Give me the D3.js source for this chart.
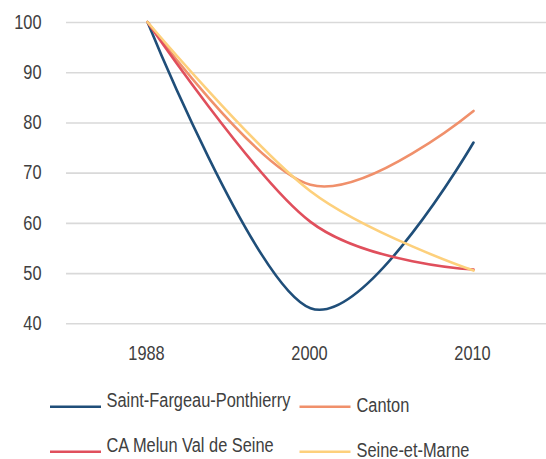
<!DOCTYPE html>
<html>
<head>
<meta charset="utf-8">
<script src="https://cdn.jsdelivr.net/npm/d3@7"></script>
<style>
  html, body { margin: 0; padding: 0; background: #fff; }
  svg { display: block; }
  text { font-family: "Liberation Sans", Arial, sans-serif; fill: #404040; }
</style>
</head>
<body>
<svg id="chart" width="546" height="459"></svg>
<script>
// Population index (1988 = 100)
const years = ["1988", "2000", "2010"];
const yTicks = [40, 50, 60, 70, 80, 90, 100];
const seriesNames = ["Saint-Fargeau-Ponthierry", "Canton", "CA Melun Val de Seine", "Seine-et-Marne"];
const saintFargeau = [100, 43, 76];
const canton = [100, 67.6, 82.3];
const caMelun = [100, 60.2, 50.7];
const seineEtMarne = [100, 66.3, 50.5];
const seriesColors = ["#1f4e79", "#f0906b", "#e04f5c", "#fdd07c"];

const series = [saintFargeau, canton, caMelun, seineEtMarne].map((values, i) => ({
  name: seriesNames[i], color: seriesColors[i], values
}));

const svg = d3.select("#chart");
const plot = { left: 66, right: 555, top: 22, bottom: 323.3 };
const narrowAxis = 0.84;   // condensed glyph width for axis labels
const narrowLegend = 0.78; // condensed glyph width for legend labels

const x = d3.scaleBand().domain(years).range([plot.left, plot.right]);
const y = d3.scaleLinear().domain([40, 100]).range([plot.bottom, plot.top]);
const cx = yr => x(yr) + x.bandwidth() / 2;

// horizontal gridlines
const yAxis = d3.axisLeft(y).tickValues(yTicks).tickSize(-(plot.right - plot.left)).tickFormat("");
const gy = svg.append("g").attr("transform", `translate(${plot.left},0)`).call(yAxis);
gy.select(".domain").remove();
gy.selectAll(".tick line").attr("stroke", "#d9d9d9").attr("stroke-width", 1.6);

// y labels, right-aligned
svg.append("g").selectAll("text")
  .data(yTicks)
  .join("text")
  .attr("transform", d => `translate(41.5,${y(d)}) scale(${narrowAxis},1)`)
  .attr("text-anchor", "end")
  .attr("dy", "0.35em")
  .attr("font-size", 19.5)
  .text(d => d);

// x labels
svg.append("g").selectAll("text")
  .data(years)
  .join("text")
  .attr("transform", d => `translate(${cx(d) - 1},360) scale(${narrowAxis},1)`)
  .attr("text-anchor", "middle")
  .attr("font-size", 19.5)
  .text(d => d);

// smoothed lines
const line = d3.line()
  .x((d, i) => cx(years[i]))
  .y(d => y(d))
  .curve(d3.curveCardinal.tension(0));

svg.append("g").selectAll("path")
  .data(series)
  .join("path")
  .attr("d", d => line(d.values))
  .attr("fill", "none")
  .attr("stroke", d => d.color)
  .attr("stroke-width", 2.6)
  .attr("stroke-linecap", "round");

// legend
const legendItems = [
  { s: series[0], lx: 50, ly: 406.7, tx: 106.5, ty: 407.3 },
  { s: series[1], lx: 299.5, ly: 406.7, tx: 356.5, ty: 412.3 },
  { s: series[2], lx: 50, ly: 451.7, tx: 106.5, ty: 451.5 },
  { s: series[3], lx: 299.5, ly: 451.7, tx: 356.5, ty: 456.8 }
];
const lg = svg.append("g").selectAll("g").data(legendItems).join("g");
lg.append("line")
  .attr("x1", d => d.lx).attr("x2", d => d.lx + 51)
  .attr("y1", d => d.ly).attr("y2", d => d.ly)
  .attr("stroke", d => d.s.color).attr("stroke-width", 2.6);
lg.append("text")
  .attr("transform", d => `translate(${d.tx},${d.ty}) scale(${narrowLegend},1)`)
  .attr("font-size", 21)
  .text(d => d.s.name);
</script>
</body>
</html>
